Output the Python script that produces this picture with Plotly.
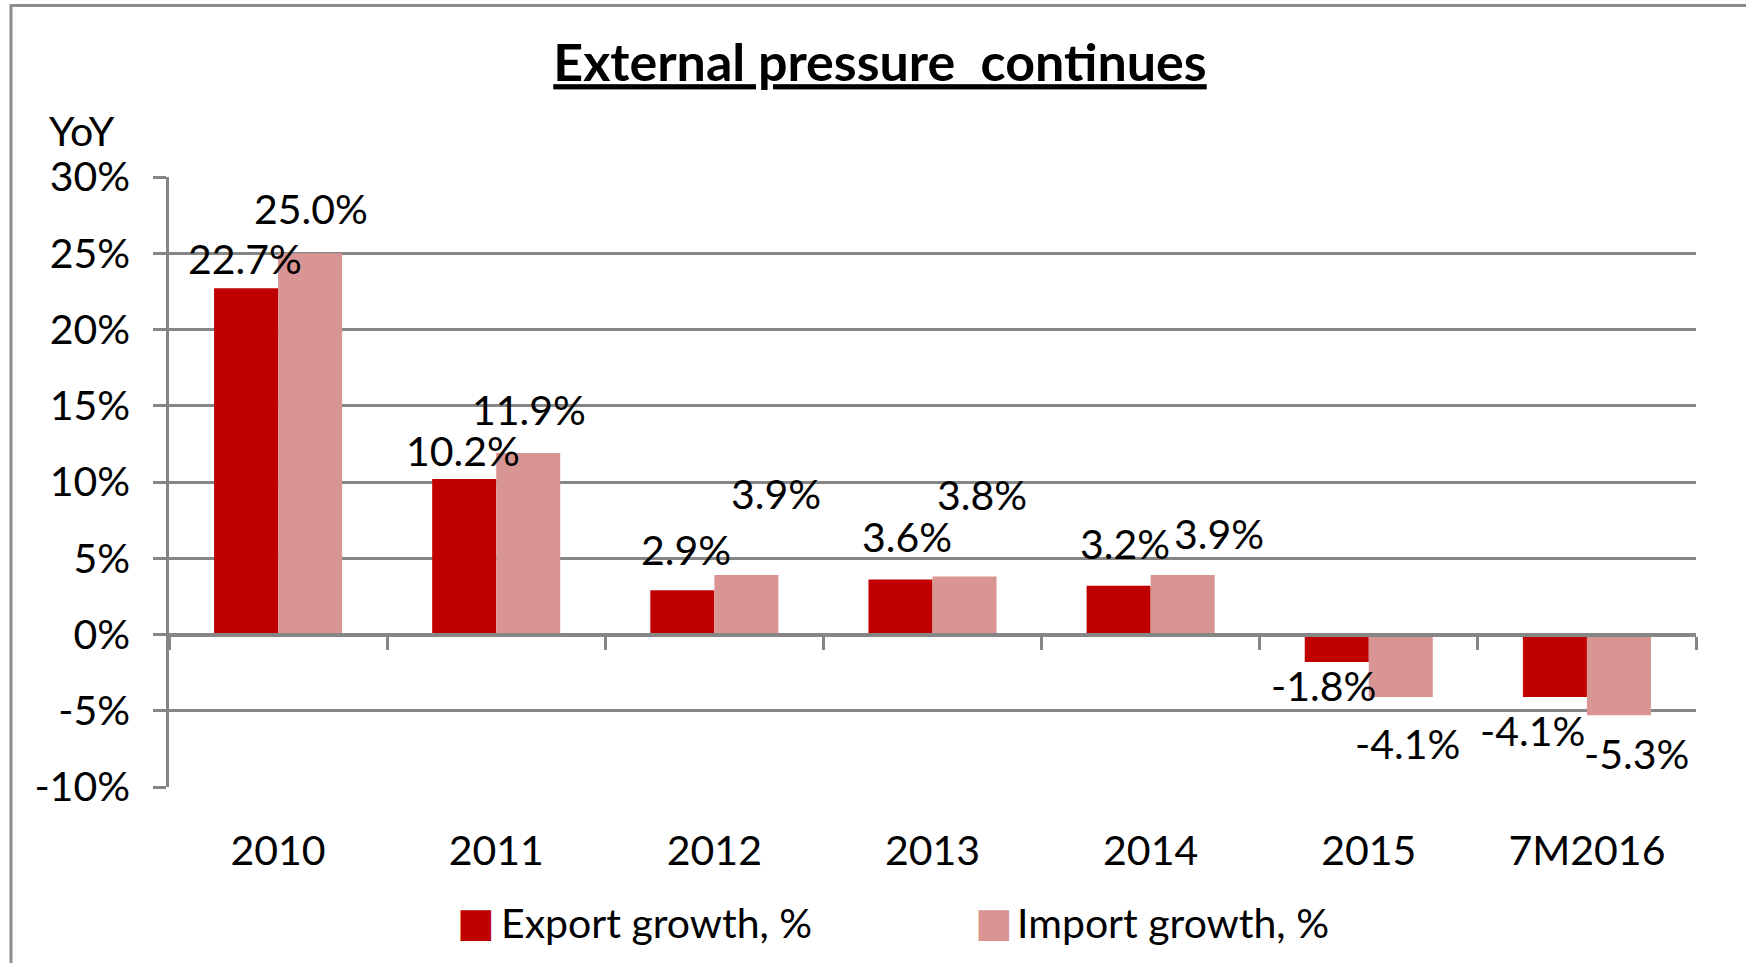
import plotly.graph_objects as go

categories = ["2010", "2011", "2012", "2013", "2014", "2015", "7M2016"]
export_growth = [22.7, 10.2, 2.9, 3.6, 3.2, -1.8, -4.1]
import_growth = [25.0, 11.9, 3.9, 3.8, 3.9, -4.1, -5.3]
series_names = ["Export growth, %", "Import growth, %"]
y_ticks = [-10, -5, 0, 5, 10, 15, 20, 25, 30]
y_tick_text = [f"{v}%" for v in y_ticks]

# label offsets (px) relative to bar end: (dx, dy up)
export_label_off = [(-1, 30), (-1, 28), (4, 41), (6, 43), (6, 42), (-13, -24), (-22, -33)]
import_label_off = [(1, 45), (1, 44), (30, 82), (17, 82), (36, 42), (7, -46), (18, -38)]

W, H = 1746, 963
L, R, T, B = 169, 50, 177, 176
PW, PH = W - L - R, H - T - B

def px_x(px):
    return (px - L) / PW

def px_y(py):
    return (H - B - py) / PH

RED = "#C00000"
PINK = "#D99594"
GRID = "#868686"
FONT = "Lato"
FS = 41

fig = go.Figure()
fig.add_trace(go.Bar(x=categories, y=export_growth, name=series_names[0],
                     marker=dict(color=RED, line=dict(width=0)), showlegend=False))
fig.add_trace(go.Bar(x=categories, y=import_growth, name=series_names[1],
                     marker=dict(color=PINK, line=dict(width=0)), showlegend=False))
# helper trace for the zero-crossing category axis
fig.add_trace(go.Scatter(x=categories, y=[None] * len(categories), xaxis="x2",
                         mode="lines", showlegend=False, hoverinfo="skip"))

bar_half = 32
annotations = []
for i, c in enumerate(categories):
    for vals, offs, sgn in ((export_growth, export_label_off, -1), (import_growth, import_label_off, 1)):
        v = vals[i]
        dx, dy = offs[i]
        annotations.append(dict(x=i, y=v, xref="x", yref="y", text=f"{v:.1f}%",
                                showarrow=False, xshift=sgn * bar_half + dx, yshift=dy,
                                font=dict(family=FONT, size=FS, color="black"),
                                xanchor="center", yanchor="middle"))

annotations.append(dict(text="YoY", xref="paper", yref="paper", x=px_x(47), y=px_y(130),
                        xanchor="left", yanchor="middle", showarrow=False,
                        font=dict(family=FONT, size=FS, color="black")))

# legend
leg_y = px_y(922)
for name, col, sq_x, tx in ((series_names[0], RED, 476, 499), (series_names[1], PINK, 994, 1015)):
    annotations.append(dict(text="■", xref="paper", yref="paper", x=px_x(sq_x), y=leg_y,
                            xanchor="center", yanchor="middle", showarrow=False,
                            font=dict(family="DejaVu Sans", size=40, color=col)))
    annotations.append(dict(text=name, xref="paper", yref="paper", x=px_x(tx), y=leg_y,
                            xanchor="left", yanchor="middle", showarrow=False,
                            font=dict(family=FONT, size=FS, color="black")))

fig.update_layout(
    width=W, height=H,
    margin=dict(l=L, r=R, t=T, b=B),
    paper_bgcolor="white", plot_bgcolor="white",
    barmode="group", bargap=0.413, bargroupgap=0,
    title=dict(text="<b>External pressure  continues</b>", x=880 / W, xref="container",
               y=1 - 63 / H, yref="container", xanchor="center", yanchor="middle",
               font=dict(family=FONT, size=52, color="black", lineposition="under")),
    xaxis=dict(type="category", range=[-0.5, 6.5], showgrid=False, showline=False,
               ticks="", tickfont=dict(family=FONT, size=FS, color="black"),
               ticklabelstandoff=36, zeroline=False),
    xaxis2=dict(type="category", overlaying="x", anchor="free", position=0.25,
                side="bottom", range=[-0.5, 6.5], showline=True, linecolor=GRID,
                linewidth=4, ticks="outside", tickson="boundaries", ticklen=13,
                tickwidth=2.5, tickcolor=GRID, showticklabels=False, showgrid=False,
                categoryorder="array", categoryarray=categories),
    yaxis=dict(range=[-10, 30], tickvals=y_ticks, ticktext=y_tick_text, showgrid=True,
               gridcolor=GRID, gridwidth=2.5, zeroline=False, showline=True,
               linecolor=GRID, linewidth=2.5, ticks="outside", ticklen=13, tickwidth=2.5,
               tickcolor=GRID, tickfont=dict(family=FONT, size=FS, color="black"),
               ticklabelstandoff=15),
    annotations=annotations,
    shapes=[dict(type="rect", xref="paper", yref="paper", x0=px_x(11), x1=1.2,
                 y0=-0.6, y1=px_y(5.5), line=dict(color="#8C8C8C", width=3),
                 fillcolor="rgba(0,0,0,0)", layer="below")],
    showlegend=False,
)

fig.write_html("out.html", config={"displayModeBar": False},
               post_script="document.body.style.margin='0px';")
